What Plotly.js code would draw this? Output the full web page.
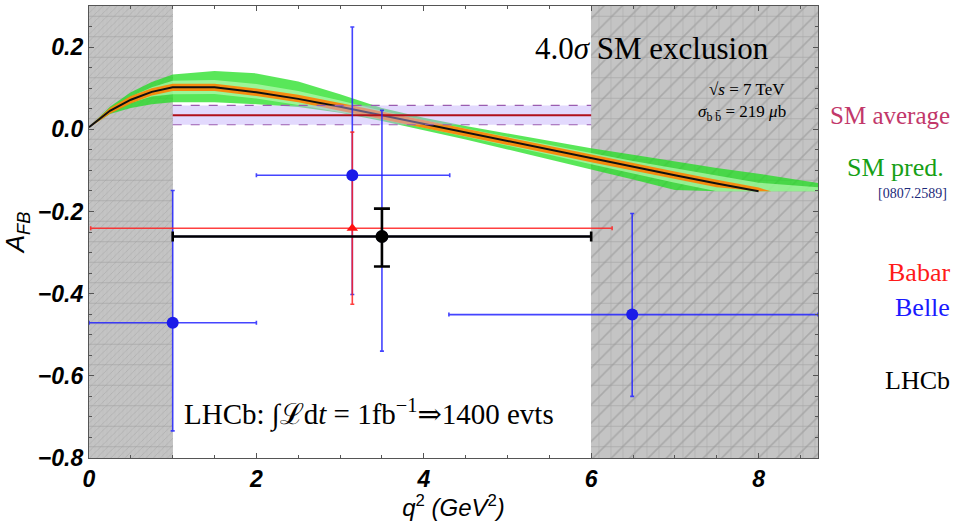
<!DOCTYPE html>
<html>
<head>
<meta charset="utf-8">
<script src="https://cdn.plot.ly/plotly-3.0.1.min.js"></script>
<style>html,body{margin:0;padding:0;background:#fff;}#chart{width:956px;height:521px;}</style>
</head>
<body>
<div id="chart"></div>
<script>
// ---- Data ----
// Vetoed (shaded) q^2 regions
const vetoLo = [0, 6];
const vetoHi = [1, 8.71];

// SM prediction bands (q^2 grid)
const bandX   = [0, 0.25, 0.5, 0.75, 1, 1.5, 2, 2.5, 3, 3.5, 4, 4.5, 5, 5.5, 6, 6.5, 7, 7.5, 8, 8.71];
const outerUp = [0.005, 0.055, 0.090, 0.115, 0.133, 0.142, 0.136, 0.116, 0.085, 0.052, 0.028, 0.008, -0.010, -0.028, -0.046, -0.062, -0.078, -0.094, -0.108, -0.131];
const outerLo = [0.005, 0.037, 0.052, 0.061, 0.066, 0.066, 0.061, 0.054, 0.040, 0.020, -0.002, -0.025, -0.049, -0.073, -0.098, -0.122, -0.148, -0.151, -0.151, -0.151];
const innerUp = [0.005, 0.050, 0.080, 0.102, 0.118, 0.120, 0.110, 0.093, 0.070, 0.045, 0.022, 0.002, -0.019, -0.039, -0.058, -0.077, -0.095, -0.113, -0.130, -0.141];
const innerLo = [0.005, 0.040, 0.064, 0.080, 0.085, 0.086, 0.075, 0.059, 0.042, 0.024, 0.004, -0.018, -0.040, -0.062, -0.085, -0.108, -0.130, -0.151, -0.151, -0.151];

const orangeX  = [0, 0.25, 0.5, 0.75, 1, 1.5, 2, 2.5, 3, 3.5, 4, 4.5, 5, 5.5, 6, 6.5, 7, 7.5, 8, 8.15];
const orangeUp = [0.006, 0.052, 0.081, 0.100, 0.111, 0.111, 0.099, 0.084, 0.064, 0.043, 0.022, 0.001, -0.020, -0.041, -0.062, -0.083, -0.103, -0.123, -0.142, -0.151];
const orangeLo = [0.004, 0.038, 0.063, 0.082, 0.093, 0.093, 0.081, 0.066, 0.046, 0.025, 0.004, -0.017, -0.038, -0.059, -0.080, -0.101, -0.121, -0.141, -0.151, -0.151];

const centralX = [0, 0.25, 0.5, 0.75, 1, 1.5, 2, 2.5, 3, 3.5, 4, 4.5, 5, 5.5, 6, 6.5, 7, 7.5, 8];
const centralY = [0.005, 0.045, 0.072, 0.091, 0.102, 0.102, 0.090, 0.074, 0.055, 0.034, 0.013, -0.008, -0.029, -0.050, -0.071, -0.092, -0.112, -0.132, -0.151];

// SM average (1 < q^2 < 6)
const smAvgX  = [1, 6];
const smAvg   = [0.034, 0.034];
const smAvgHi = [0.058, 0.058];
const smAvgLo = [0.011, 0.011];

// Belle
const belleX   = [1.0, 3.146, 3.50, 6.49];
const belleY   = [-0.471, -0.112, -0.261, -0.451];
const belleXm  = [1.0, 1.146, 2.50, 2.19];
const belleXp  = [1.0, 1.164, 2.50, 2.22];
const belleYp  = [0.322, 0.361, 0.307, 0.246];
const belleYm  = [0.263, 0.290, 0.279, 0.199];

// Babar
const babarX  = [3.146];
const babarY  = [-0.241];
const babarXm = [3.126];
const babarXp = [3.104];
const babarYp = [0.234];
const babarYm = [0.185];

// LHCb (expected)
const lhcbX  = [3.5];
const lhcbY  = [-0.261];
const lhcbXe = [2.5];
const lhcbYp = [0.068];
const lhcbYm = [0.073];

// Tick labels
const xTicks = [0, 2, 4, 6, 8];
const yTicks = [-0.8, -0.6, -0.4, -0.2, 0.0, 0.2];
const yTickText = ['\u22120.8', '\u22120.6', '\u22120.4', '\u22120.2', '0.0', '0.2'];

// ---- Build traces ----
const vetoMid = vetoLo.map((v, i) => (v + vetoHi[i]) / 2);
const vetoW = vetoLo.map((v, i) => vetoHi[i] - v);
const yBottom = -0.8, yTop = 0.3;

function vetoBar(pattern, color) {
  return {
    type: 'bar', x: vetoMid, width: vetoW,
    y: vetoMid.map(() => yTop - yBottom), base: vetoMid.map(() => yBottom),
    marker: { color: color, line: { width: 0 }, pattern: pattern },
    hoverinfo: 'skip', showlegend: false
  };
}

function band(xs, up, lo, fill) {
  return {
    type: 'scatter', mode: 'lines',
    x: xs.concat(xs.slice().reverse()),
    y: up.concat(lo.slice().reverse()),
    fill: 'toself', fillcolor: fill, line: { width: 0 },
    hoverinfo: 'skip', showlegend: false
  };
}

const traces = [
  vetoBar({ shape: '/', fgcolor: '#8e8e8e', size: [5, 13], solidity: 0.12, fillmode: 'overlay' }, '#c4c4c4'),
  vetoBar({ shape: '-', fgcolor: '#9a9a9a', size: 20.5, solidity: 0.05, fillmode: 'overlay' }, 'rgba(0,0,0,0)'),
  vetoBar({ shape: '|', fgcolor: '#a4a4a4', size: [4, 12], solidity: 0.08, fillmode: 'overlay' }, 'rgba(0,0,0,0)'),
  band(bandX, outerUp, outerLo, 'rgba(25,222,25,0.72)'),
  band(bandX, innerUp, innerLo, 'rgba(200,255,195,0.60)'),
  band(orangeX, orangeUp, orangeLo, 'rgba(255,128,0,0.90)'),
  { type: 'scatter', mode: 'lines', x: centralX, y: centralY, line: { color: '#111', width: 2 }, hoverinfo: 'skip', showlegend: false },
  // SM average band
  { type: 'scatter', mode: 'lines', x: smAvgX, y: smAvgLo, line: { color: '#9a5cb0', width: 1.2, dash: 'dash' }, hoverinfo: 'skip', showlegend: false },
  { type: 'scatter', mode: 'lines', x: smAvgX, y: smAvgHi, fill: 'tonexty', fillcolor: 'rgba(190,170,250,0.45)', line: { color: '#9a5cb0', width: 1.2, dash: 'dash' }, hoverinfo: 'skip', showlegend: false },
  { type: 'scatter', mode: 'lines', x: smAvgX, y: smAvg, line: { color: '#b0101a', width: 2 }, hoverinfo: 'skip', showlegend: false },
  // Belle error bars
  { type: 'scatter', mode: 'markers', x: belleX, y: belleY, marker: { size: 1, opacity: 0 },
    error_x: { type: 'data', symmetric: false, array: belleXp, arrayminus: belleXm, color: 'rgba(35,35,255,0.85)', thickness: 1.6, width: 2 },
    error_y: { type: 'data', symmetric: false, array: belleYp, arrayminus: belleYm, color: 'rgba(35,35,255,0.85)', thickness: 1.6, width: 2 },
    hoverinfo: 'skip', showlegend: false },
  // Babar
  { type: 'scatter', mode: 'markers', x: babarX, y: babarY, marker: { symbol: 'triangle-up', size: 10, color: '#ff1010' },
    error_x: { type: 'data', symmetric: false, array: babarXp, arrayminus: babarXm, color: 'rgba(255,30,30,0.85)', thickness: 1.6, width: 2 },
    error_y: { type: 'data', symmetric: false, array: babarYp, arrayminus: babarYm, color: 'rgba(255,30,30,0.85)', thickness: 1.6, width: 2 },
    hoverinfo: 'skip', showlegend: false },
  // Belle markers
  { type: 'scatter', mode: 'markers', x: belleX, y: belleY, marker: { size: 12, color: '#1b1be8' }, hoverinfo: 'skip', showlegend: false },
  // LHCb
  { type: 'scatter', mode: 'markers', x: lhcbX, y: lhcbY, marker: { size: 13, color: '#000' },
    error_x: { type: 'data', array: lhcbXe, color: '#000', thickness: 2.6, width: 5 },
    error_y: { type: 'data', symmetric: false, array: lhcbYp, arrayminus: lhcbYm, color: '#000', thickness: 2.6, width: 8 },
    hoverinfo: 'skip', showlegend: false }
];

// ---- Layout ----
const L = 89, R = 818, T = 6, B = 458;
const px = x => (x - L) / (R - L);
const py = y => (B - y) / (B - T);
const serif = 'Liberation Serif, DejaVu Serif, serif';
function note(text, x, y, size, color, xanchor) {
  return { text: text, xref: 'paper', yref: 'paper', x: px(x), y: py(y), xanchor: xanchor || 'right', yanchor: 'middle',
           showarrow: false, font: { family: serif, size: size, color: color } };
}

const tickFont = { family: 'Liberation Sans, Arial, sans-serif', size: 23, color: '#000', style: 'italic', weight: 'bold' };

const layout = {
  width: 956, height: 521,
  margin: { l: L, r: 956 - R, t: T, b: 521 - B },
  paper_bgcolor: '#fff', plot_bgcolor: '#fff',
  barmode: 'overlay', bargap: 0,
  hovermode: false,
  xaxis: {
    range: [0, 8.71], tickvals: xTicks, ticktext: xTicks.map(String),
    ticks: 'inside', ticklen: 5, tickcolor: '#555', showline: true, linecolor: '#555', linewidth: 1.2, mirror: 'ticks',
    showgrid: false, zeroline: false, tickfont: tickFont,
    minor: { dtick: 0.5, ticks: 'inside', ticklen: 3, tickcolor: '#555' },
    title: { text: '<i>q</i><sup>2</sup><i> (GeV</i><sup>2</sup><i>)</i>', standoff: 8,
             font: { family: 'Liberation Sans, Arial, sans-serif', size: 24, color: '#000' } }
  },
  yaxis: {
    range: [yBottom, yTop], tickvals: yTicks, ticktext: yTickText,
    ticks: 'inside', ticklen: 5, tickcolor: '#555', showline: true, linecolor: '#555', linewidth: 1.2, mirror: 'ticks',
    showgrid: false, zeroline: false, tickfont: tickFont,
    minor: { dtick: 0.05, ticks: 'inside', ticklen: 3, tickcolor: '#555' },
    title: { text: '<i>A<sub>FB</sub></i>', standoff: 5,
             font: { family: 'Liberation Sans, Arial, sans-serif', size: 26, color: '#000' } }
  },
  annotations: [
    note('4.0<i>σ</i> SM exclusion', 771, 48, 31, '#000'),
    note('\u221A<i>s</i> = 7 TeV', 787, 89, 17, '#000'),
    note('<i>σ</i><sub>b b\u0304</sub> = 219 <i>μ</i>b', 788, 113, 17, '#000'),
    note('SM average', 952, 115, 25, '#c2386a'),
    note('SM pred.', 946, 167, 26, '#16a016'),
    note('[0807.2589]', 949, 193, 14, '#1c2a7a'),
    note('Babar', 952, 272, 26, '#ff1a1a'),
    note('Belle', 952, 307, 26, '#1a1aff'),
    note('LHCb', 952, 380, 26, '#000'),
    note('LHCb: \u222B\u2112d<i>t</i> = 1fb<sup>\u22121</sup>\u21D21400 evts', 182, 413, 29, '#000', 'left')
  ]
};

Plotly.newPlot('chart', traces, layout, { staticPlot: true, displayModeBar: false });
</script>
</body>
</html>
